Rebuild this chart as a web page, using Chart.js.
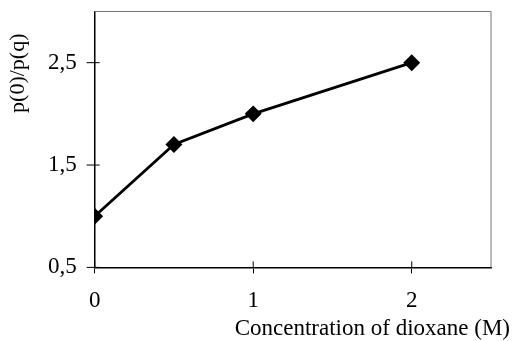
<!DOCTYPE html>
<html>
<head>
<meta charset="utf-8">
<script src="https://cdn.jsdelivr.net/npm/chart.js@4/dist/chart.umd.min.js"></script>
<style>
  html, body { margin: 0; padding: 0; background: #fff; }
  #wrap { width: 518px; height: 341px; }
</style>
</head>
<body>
<div id="wrap"><canvas id="chart"></canvas></div>
<script>
// dioxane concentration (M) vs p(0)/p(q)
const concentration = [0, 0.5, 1, 2];
const ratio = [1.0, 1.7, 2.0, 2.5];
const xTicks = [0, 1, 2];
const yTicks = [0.5, 1.5, 2.5];
const xTitle = 'Concentration of dioxane (M)';

const serif = "'Liberation Serif', 'Times New Roman', serif";
const comma = v => String(v).replace('.', ',');

// frame on top/right, tick marks crossing the axes, x axis title
const frame = {
    id: 'frame',
    afterDraw(chart) {
        const { ctx, chartArea: a, scales } = chart;
        ctx.save();
        ctx.strokeStyle = '#777';
        ctx.lineWidth = 1;
        ctx.beginPath();
        ctx.moveTo(a.left, a.top);
        ctx.lineTo(a.right, a.top);
        ctx.lineTo(a.right, a.bottom);
        ctx.stroke();

        ctx.strokeStyle = '#000';
        ctx.beginPath();
        xTicks.forEach(v => {
            const px = scales.x.getPixelForValue(v);
            ctx.moveTo(px, a.bottom);
            ctx.lineTo(px, a.bottom - 6);
        });
        yTicks.forEach(v => {
            const py = scales.y.getPixelForValue(v);
            ctx.moveTo(a.left - 8, py);
            ctx.lineTo(a.left + 5, py);
        });
        ctx.stroke();

        ctx.fillStyle = '#000';
        ctx.font = '23px ' + serif;
        ctx.textAlign = 'right';
        ctx.textBaseline = 'alphabetic';
        ctx.fillText(xTitle, chart.width - 8, chart.height - 6);
        ctx.restore();
    }
};

new Chart(document.getElementById('chart').getContext('2d'), {
    type: 'scatter',
    data: {
        datasets: [{
            data: concentration.map((x, i) => ({ x, y: ratio[i] })),
            showLine: true,
            borderColor: '#000',
            borderWidth: 2.8,
            backgroundColor: '#000',
            pointStyle: 'rectRot',
            pointRadius: 6.5,
            pointHoverRadius: 6.5,
        }],
    },
    options: {
        responsive: true,
        maintainAspectRatio: false,
        animation: false,
        layout: { padding: { left: 5, top: 0, right: 27, bottom: 12 } },
        plugins: {
            legend: { display: false },
            tooltip: { enabled: false },
        },
        scales: {
            x: {
                type: 'linear',
                min: 0,
                max: 2.5,
                afterBuildTicks: s => { s.ticks = xTicks.map(value => ({ value })); },
                grid: { drawOnChartArea: false, color: '#000', tickLength: 6 },
                border: { color: '#000', width: 1.5 },
                ticks: {
                    color: '#000',
                    padding: 14,
                    maxRotation: 0,
                    font: { family: serif, size: 23 },
                    callback: comma,
                },
            },
            y: {
                type: 'linear',
                min: 0.5,
                max: 3,
                afterBuildTicks: s => { s.ticks = yTicks.map(value => ({ value })); },
                grid: { drawOnChartArea: false, tickColor: 'transparent', tickLength: 18 },
                border: { color: '#000', width: 1.5 },
                ticks: {
                    color: '#000',
                    padding: 0,
                    font: { family: serif, size: 23, lineHeight: 1 },
                    callback: comma,
                },
                title: {
                    display: true,
                    text: 'p(0)/p(q)    ',
                    align: 'end',
                    color: '#000',
                    padding: { top: 0, bottom: 16.5 },
                    font: { family: serif, size: 22 },
                },
            },
        },
    },
    plugins: [frame],
});
</script>
</body>
</html>
